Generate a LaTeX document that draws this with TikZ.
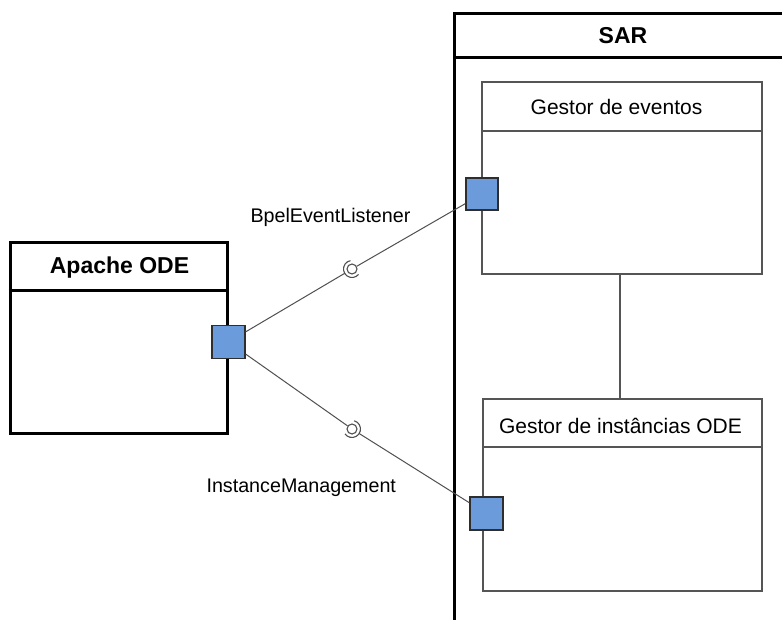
\documentclass[tikz,border=0pt]{standalone}
\usepackage{fontspec}
\setmainfont{Liberation Sans}
\usetikzlibrary{calc}
\definecolor{portblue}{HTML}{6B9BDB}
\definecolor{portedge}{HTML}{2E2E2E}
\definecolor{compedge}{HTML}{555555}
\definecolor{wiregray}{HTML}{505050}
\begin{document}
\begin{tikzpicture}[x=1pt,y=-1pt,
  thickbox/.style={draw=black,line width=3pt,rectangle,inner sep=0pt},
  compbox/.style={draw=compedge,line width=1.6pt,rectangle,inner sep=0pt},
  portbox/.style={draw=portedge,line width=1.4pt,fill=portblue,rectangle,minimum size=32pt,inner sep=0pt},
  ball/.style={draw=wiregray,line width=1.1pt,circle,minimum size=10pt,inner sep=0pt,fill=white},
  wire/.style={draw=wiregray,line width=1pt},
  socket/.style={draw=wiregray,line width=1.1pt},
  titlefont/.style={font=\fontsize{23}{27}\selectfont\bfseries},
  compfont/.style={font=\fontsize{21}{25}\selectfont},
  labelfont/.style={font=\fontsize{19.7}{23}\selectfont}]
\useasboundingbox (0,0) rectangle (782,619);
\clip (0,0) rectangle (782,619);
\fill[white] (0,0) rectangle (782,619);

% SAR container (cut off at right and bottom)
\coordinate (sarBL) at (454,640);
\coordinate (sarTL) at (454,13);
\coordinate (sarTR) at (800,13);
\coordinate (sarHL) at (454,57);
\coordinate (sarHR) at (800,57);
\draw[draw=black,line width=3pt] (sarBL) -- (sarTL) -- (sarTR);
\draw[draw=black,line width=3pt] (sarHL) -- (sarHR);
\node[titlefont,anchor=base] (sarT) at (623,43) {SAR};

% Apache ODE box
\node[thickbox,minimum width=217pt,minimum height=191pt] (apache) at (118.5,337.5) {};
\draw[draw=black,line width=3pt] (apache.west |- 0,290) -- (apache.east |- 0,290);
\node[titlefont,anchor=base] (apT) at (119.5,273.3) {Apache ODE};

% Gestor de eventos
\node[compbox,minimum width=280pt,minimum height=192pt] (ge) at (622,178) {};
\draw[draw=compedge,line width=1.6pt] (ge.west |- 0,131) -- (ge.east |- 0,131);
\node[compfont,anchor=base] (geT) at (616.5,114.3) {Gestor de eventos};

% Gestor de instancias ODE
\node[compbox,minimum width=279pt,minimum height=192pt] (gi) at (622.5,495) {};
\draw[draw=compedge,line width=1.6pt] (gi.west |- 0,447) -- (gi.east |- 0,447);
\node[compfont,anchor=base] (giT) at (620.5,433.3) {Gestor de instâncias ODE};

% connection between components
\draw[draw=compedge,line width=1.6pt] ([xshift=-2pt]ge.south) -- ([xshift=-2.5pt]gi.north);

% ports
\node[portbox,minimum size=33pt] (ap) at (228.5,342) {};
\node[portbox] (gp) at (482,194) {};
\node[portbox,minimum size=33pt] (ip) at (486.5,513.5) {};

% ball and socket symbols
\node[ball] (b1) at (352,269) {};
\node[ball] (b2) at (352,429) {};
\coordinate (s1) at ($(b1.center)!8.5pt!(ap.center)$);
\coordinate (s2) at ($(b2.center)!8.5pt!(ip.center)$);
\draw[socket] ([shift={(-100:8.5)}]b1.center) arc[start angle=-100,end angle=-320,radius=8.5];
\draw[socket] ([shift={(-75:8.5)}]b2.center) arc[start angle=-75,end angle=145,radius=8.5];

% wires
\draw[wire] (ap) -- (s1);
\draw[wire] (b1) -- (gp);
\draw[wire] (ap) -- (b2);
\draw[wire] (s2) -- (ip);

% labels
\node[labelfont,anchor=base west] (l1) at (247,222) {BpelEventListener};
\node[labelfont,anchor=base west] (l2) at (203,492.3) {InstanceManagement};
\end{tikzpicture}
\end{document}
